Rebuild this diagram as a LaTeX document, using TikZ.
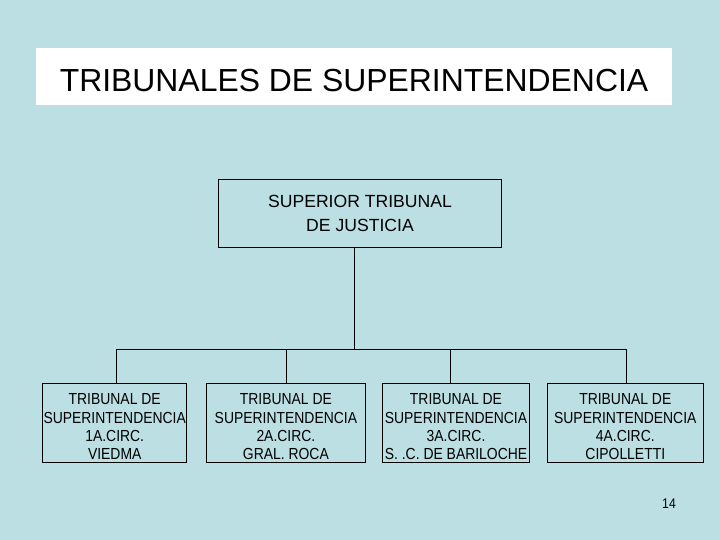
\documentclass[tikz,border=0pt]{standalone}
\usepackage{fontspec}
\setmainfont{Liberation Sans}
\newfontfamily\narrowsans[FakeStretch=0.87]{Liberation Sans}
\definecolor{slidebg}{RGB}{187,223,227}
\newcommand{\tallline}{\rule{0pt}{19pt}}

\begin{document}
\begin{tikzpicture}[x=1pt,y=-1pt]
          \tikzstyle{every node}=[inner sep=0pt,align=center]
          \tikzstyle{box}=[draw,line width=0.8pt]
          \tikzstyle{circ}=[box,minimum height=79.7pt,font=\narrowsans\fontsize{16}{18.3}\selectfont]
          \fill[slidebg] (0,0) rectangle (720,540);
          \node[fill=white,minimum width=636pt,minimum height=57pt] (titlebox) at (354,76.5) {};
          \node[font=\fontsize{31.9}{36}\selectfont] (title) at (354,80.5) {TRIBUNALES DE SUPERINTENDENCIA};
          \node[box,minimum width=283.4pt,minimum height=68pt,font=\fontsize{17.6}{23.3}\selectfont] (sup) at (360,213.3) {SUPERIOR TRIBUNAL\\DE JUSTICIA};
          \node[circ,minimum width=144pt] (t1) at (114.7,422.8) {\tallline TRIBUNAL DE\\SUPERINTENDENCIA\\1A.CIRC.\\VIEDMA};
          \node[circ,minimum width=159.7pt] (t2) at (285.9,422.8) {\tallline TRIBUNAL DE\\SUPERINTENDENCIA\\2A.CIRC.\\GRAL. ROCA};
          \node[circ,minimum width=146.6pt] (t3) at (456,422.8) {\tallline TRIBUNAL DE\\SUPERINTENDENCIA\\3A.CIRC.\\S. .C. DE BARILOCHE};
          \node[circ,minimum width=156pt] (t4) at (625.3,422.8) {\tallline TRIBUNAL DE\\SUPERINTENDENCIA\\4A.CIRC.\\CIPOLLETTI};
          \coordinate (bus) at (354.3,349.3);
          \draw[line width=0.8pt] ([xshift=-5.7pt]sup.south) -- (bus);
          \draw[line width=0.8pt] ([xshift=2pt]t1.north) |- (bus);
          \draw[line width=0.8pt] ([xshift=0.8pt]t2.north) |- (bus);
          \draw[line width=0.8pt] ([xshift=-5.3pt]t3.north) |- (bus);
          \draw[line width=0.8pt] ([xshift=1.4pt]t4.north) |- (bus);
          \node[font=\narrowsans\fontsize{14}{16}\selectfont] (pagenum) at (669,504) {14};
      \end{tikzpicture}
\end{document}
